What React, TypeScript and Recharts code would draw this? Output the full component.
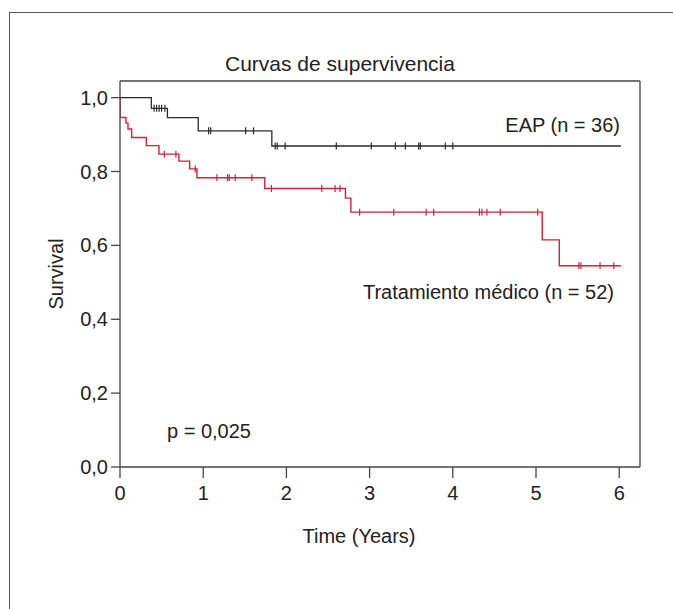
import React from "react";
import {
  ComposedChart,
  Line,
  Scatter,
  XAxis,
  YAxis,
  ReferenceLine,
} from "recharts";

// Kaplan-Meier step points (time in years, survival)
const eapSteps = [
  { t: 0, s: 1.0 },
  { t: 0.377, s: 0.971 },
  { t: 0.57, s: 0.946 },
  { t: 0.94, s: 0.91 },
  { t: 1.825, s: 0.869 },
  { t: 6.02, s: 0.869 },
];

const medSteps = [
  { t: 0, s: 1.0 },
  { t: 0.001, s: 0.946 },
  { t: 0.072, s: 0.931 },
  { t: 0.096, s: 0.915 },
  { t: 0.14, s: 0.892 },
  { t: 0.317, s: 0.87 },
  { t: 0.468, s: 0.847 },
  { t: 0.708, s: 0.828 },
  { t: 0.837, s: 0.807 },
  { t: 0.925, s: 0.783 },
  { t: 1.74, s: 0.754 },
  { t: 2.71, s: 0.728 },
  { t: 2.775, s: 0.69 },
  { t: 5.075, s: 0.615 },
  { t: 5.28, s: 0.545 },
  { t: 6.02, s: 0.545 },
];

// Censored observations
const eapCensored = [
  { t: 0.41, s: 0.971 },
  { t: 0.44, s: 0.971 },
  { t: 0.47, s: 0.971 },
  { t: 0.5, s: 0.971 },
  { t: 0.54, s: 0.971 },
  { t: 1.065, s: 0.91 },
  { t: 1.09, s: 0.91 },
  { t: 1.51, s: 0.91 },
  { t: 1.605, s: 0.91 },
  { t: 1.865, s: 0.869 },
  { t: 1.89, s: 0.869 },
  { t: 1.985, s: 0.869 },
  { t: 2.6, s: 0.869 },
  { t: 3.02, s: 0.869 },
  { t: 3.31, s: 0.869 },
  { t: 3.43, s: 0.869 },
  { t: 3.59, s: 0.869 },
  { t: 3.61, s: 0.869 },
  { t: 3.91, s: 0.869 },
  { t: 4.0, s: 0.869 },
];

const medCensored = [
  { t: 0.533, s: 0.847 },
  { t: 0.672, s: 0.847 },
  { t: 0.905, s: 0.807 },
  { t: 1.165, s: 0.783 },
  { t: 1.293, s: 0.783 },
  { t: 1.313, s: 0.783 },
  { t: 1.385, s: 0.783 },
  { t: 1.585, s: 0.783 },
  { t: 1.82, s: 0.754 },
  { t: 2.425, s: 0.754 },
  { t: 2.585, s: 0.754 },
  { t: 2.645, s: 0.754 },
  { t: 2.88, s: 0.69 },
  { t: 3.29, s: 0.69 },
  { t: 3.68, s: 0.69 },
  { t: 3.77, s: 0.69 },
  { t: 4.32, s: 0.69 },
  { t: 4.35, s: 0.69 },
  { t: 4.41, s: 0.69 },
  { t: 4.57, s: 0.69 },
  { t: 5.02, s: 0.69 },
  { t: 5.515, s: 0.545 },
  { t: 5.54, s: 0.545 },
  { t: 5.77, s: 0.545 },
  { t: 5.935, s: 0.545 },
];

const xTicks = [0, 1, 2, 3, 4, 5, 6];
const yTicks = [0, 0.2, 0.4, 0.6, 0.8, 1.0];

const X_MAX = 6.25;
const Y_MAX = 1.045;

const BLACK = "#2a2a2a";
const RED = "#cf2236";
const AXIS = "#444";
const TEXT = "#222";
const FONT = '"Liberation Sans", Arial, Helvetica, sans-serif';

const makeTick = (color: string) => (props: any) => {
  const { cx, cy } = props;
  if (cx == null || cy == null) return <g />;
  return (
    <line x1={cx} x2={cx} y1={cy - 3.5} y2={cy + 3.5} stroke={color} strokeWidth={1.2} />
  );
};

export default function App() {
  return (
    <div
      style={{
        position: "absolute",
        left: 0,
        top: 0,
        width: 673,
        height: 609,
        background: "#fff",
        overflow: "hidden",
        fontFamily: FONT,
      }}
    >
      <div
        style={{
          position: "absolute",
          left: 9,
          top: 12,
          width: 800,
          height: 800,
          border: "1px solid #555",
          boxSizing: "border-box",
        }}
      />
      <div style={{ position: "absolute", left: 0, top: 0 }}>
        <ComposedChart
          width={673}
          height={609}
          margin={{ top: 81, right: 33, bottom: 112, left: 0 }}
        >
          <XAxis
            type="number"
            dataKey="t"
            domain={[0, X_MAX]}
            ticks={xTicks}
            allowDataOverflow
            height={30}
            tickSize={11}
            tickMargin={8}
            stroke={AXIS}
            axisLine={{ stroke: AXIS, strokeWidth: 1.3 }}
            tickLine={{ stroke: AXIS, strokeWidth: 1.3 }}
            tick={{ fill: TEXT, fontSize: 20, fontFamily: FONT }}
          />
          <YAxis
            type="number"
            dataKey="s"
            domain={[0, Y_MAX]}
            ticks={yTicks}
            allowDataOverflow
            width={120}
            tickSize={9}
            tickMargin={3}
            stroke={AXIS}
            axisLine={{ stroke: AXIS, strokeWidth: 1.3 }}
            tickLine={{ stroke: AXIS, strokeWidth: 1.3 }}
            tick={{ fill: TEXT, fontSize: 20, fontFamily: FONT }}
            tickFormatter={(v: number) => v.toFixed(1).replace(".", ",")}
          />
          <ReferenceLine y={Y_MAX} stroke={AXIS} strokeWidth={1.3} />
          <ReferenceLine x={X_MAX} stroke={AXIS} strokeWidth={1.3} />
          <Line
            data={medSteps}
            dataKey="s"
            type="stepAfter"
            stroke={RED}
            strokeWidth={1.4}
            dot={false}
            activeDot={false}
            isAnimationActive={false}
          />
          <Line
            data={eapSteps}
            dataKey="s"
            type="stepAfter"
            stroke={BLACK}
            strokeWidth={1.3}
            dot={false}
            activeDot={false}
            isAnimationActive={false}
          />
          <Scatter
            data={medCensored}
            dataKey="s"
            shape={makeTick(RED)}
            isAnimationActive={false}
          />
          <Scatter
            data={eapCensored}
            dataKey="s"
            shape={makeTick(BLACK)}
            isAnimationActive={false}
          />
        </ComposedChart>
      </div>
      <svg
        width={673}
        height={609}
        style={{ position: "absolute", left: 0, top: 0, pointerEvents: "none" }}
      >
        <text x={340} y={71} textAnchor="middle" fontSize={21} fill={TEXT} fontFamily={FONT}>
          Curvas de supervivencia
        </text>
        <text
          x={0}
          y={0}
          transform="translate(63,274) rotate(-90)"
          textAnchor="middle"
          fontSize={20}
          fill={TEXT}
          fontFamily={FONT}
        >
          Survival
        </text>
        <text x={359} y={543} textAnchor="middle" fontSize={20} fill={TEXT} fontFamily={FONT}>
          Time (Years)
        </text>
        <text x={620} y={132} textAnchor="end" fontSize={20} fill={TEXT} fontFamily={FONT}>
          EAP (n = 36)
        </text>
        <text x={614} y={299} textAnchor="end" fontSize={20} fill={TEXT} fontFamily={FONT}>
          Tratamiento médico (n = 52)
        </text>
        <text x={167} y={438} textAnchor="start" fontSize={20} fill={TEXT} fontFamily={FONT}>
          p = 0,025
        </text>
      </svg>
    </div>
  );
}
